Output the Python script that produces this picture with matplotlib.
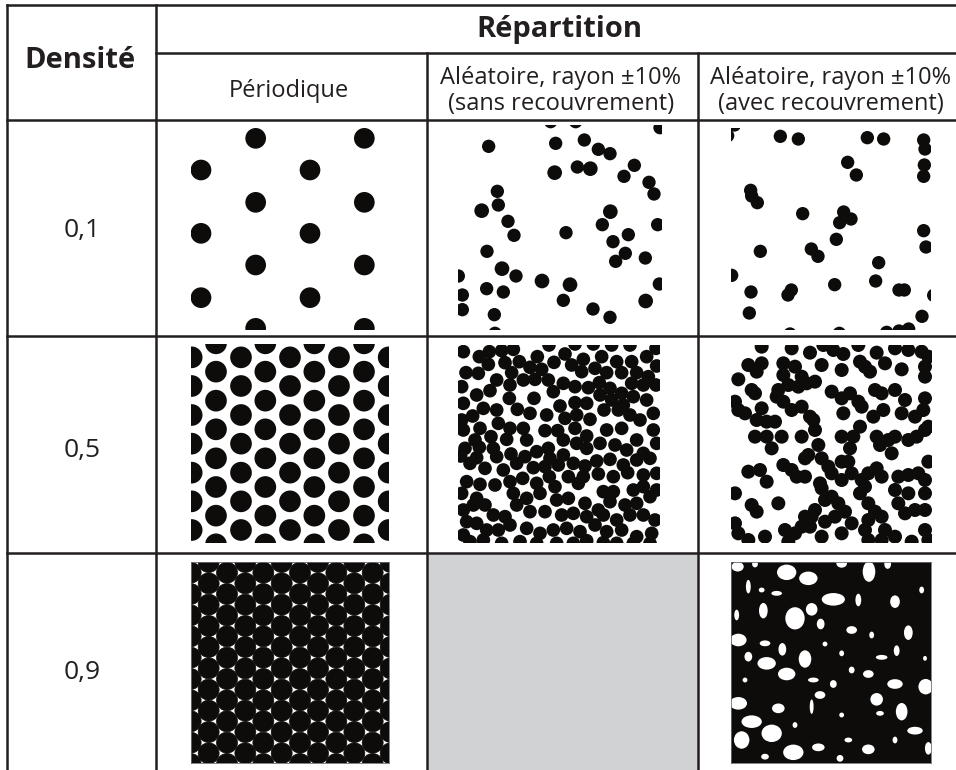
import matplotlib.pyplot as plt
from matplotlib.patches import Circle, Ellipse, Rectangle
from matplotlib.collections import PatchCollection

plt.rcParams['font.family'] = ['Open Sans', 'DejaVu Sans']

# Table text
density_labels = ['0,1', '0,5', '0,9']
column_titles = ['Périodique',
                 'Aléatoire, rayon ±10%\n(sans recouvrement)',
                 'Aléatoire, rayon ±10%\n(avec recouvrement)']
group_title = 'Répartition'
row_title = 'Densité'

# Disk data. Every panel has its own frame
# (1 unit = 1/3 pixel, measured from the panel's reading origin).

# periodic 0.1 : two column families of a hexagonal lattice
per01_cols_a = [123, 450]
per01_rows_a = [165, 355, 548]
per01_cols_b = [287, 613]
per01_rows_b = [70, 262, 450, 640]
per01_r = 31

# periodic 0.5
per05_cols_a = [95, 243, 390, 537, 686]
per05_rows_a = [82, 168, 255, 341, 428, 514, 600]
per05_cols_b = [168, 316, 463, 612]
per05_rows_b = [40, 125, 212, 298, 385, 471, 557, 643]
per05_r = 32.5

# periodic 0.9
per09_cols_a = [92, 201, 310, 420, 529, 638]
per09_rows_a = [34, 98, 162, 226, 289, 353, 417, 481, 544, 608, 672]
per09_cols_b = [146, 256, 365, 474, 583, 692]
per09_rows_b = [2, 66, 130, 194, 258, 321, 385, 449, 512, 576, 640, 704]
per09_r = 31.4

# random 0.1, no overlap
rnd01_x = [362, 437, 690, 176, 377, 463, 505, 540, 374, 442, 481, 613, 582,
           657, 672, 202, 205, 155, 234, 252, 541, 517, 683, 408, 595, 549,
           171, 586, 557, 646, 216, 258, 85, 336, 420, 688, 170, 220, 97,
           400, 647, 97, 489, 193, 540, 195]
rnd01_y = [20, 20, 38, 94, 85, 75, 103, 116, 173, 156, 161, 151, 184, 202,
           237, 229, 270, 287, 319, 361, 290, 329, 329, 353, 359, 380, 409,
           415, 439, 429, 461, 483, 483, 498, 509, 507, 521, 531, 540, 556,
           558, 584, 582, 599, 607, 655]
rnd01_r = [20, 20, 20, 20, 20, 20, 20, 20, 22, 20, 22, 20, 20, 20, 20, 20,
           20, 22, 20, 20, 22, 20, 20, 20, 20, 20, 20, 20, 20, 20, 22, 20,
           20, 22, 22, 20, 20, 20, 20, 20, 22, 20, 20, 20, 20, 20]

# random 0.1, with overlap
ovl01_x = [98, 118, 256, 310, 517, 566, 686, 690, 688, 686, 458, 484, 167,
           170, 187, 323, 446, 434, 468, 686, 693, 424, 196, 349, 369, 551,
           110, 168, 289, 279, 419, 542, 612, 628, 716, 163, 681, 285, 433,
           575, 612, 641]
ovl01_y = [62, 30, 64, 72, 68, 72, 75, 102, 150, 184, 142, 180, 226, 243,
           263, 296, 291, 323, 312, 347, 396, 373, 409, 402, 424, 443, 481,
           531, 525, 540, 509, 498, 525, 525, 541, 594, 604, 657, 655, 652,
           648, 642]
ovl01_r = 20

# random 0.5, no overlap
rnd05_x = [100, 148, 178, 215, 250, 322, 357, 405, 460, 515, 560, 605, 650,
           678, 435, 490, 545, 600,
           108, 145, 175, 225, 268, 245, 300, 335, 372, 425, 455, 495, 530,
           575, 620, 655, 680,
           95, 200, 240, 280, 315, 355, 400, 370, 435, 475, 508, 540, 575,
           605, 640, 678,
           140, 180, 238, 312, 100, 160, 200, 262, 390, 435, 470, 510, 545,
           580, 610, 650,
           128, 300, 350, 405, 440, 480, 522, 565, 600, 630, 670, 95,
           100, 150, 205, 240, 280, 345, 383, 435, 470, 530, 575, 620, 670,
           135, 183, 230, 290, 400,
           105, 148, 190, 320, 355, 440, 470, 510, 555, 590, 640, 680, 92,
           140, 200, 243, 285, 360, 400,
           120, 165, 220, 260, 310, 345, 385, 430, 465, 500, 540, 580, 620,
           660, 680, 640, 593, 550, 505, 460,
           110, 150, 195, 240, 278, 320, 358, 375, 415, 445, 520, 550, 610,
           640, 680,
           95, 140, 250, 290, 330, 380, 415, 465, 505, 540, 585, 620, 660,
           100, 130,
           165, 190, 225, 260, 300, 345, 395, 430, 470, 520, 560, 600, 640,
           675, 110, 140,
           100, 170, 205, 240, 290, 330, 370, 410, 450, 495, 530, 575, 620,
           665, 120, 160, 215, 270, 320, 380, 430, 470, 520, 560, 610, 660]
rnd05_y = [65, 80, 65, 62, 58, 80, 45, 72, 88, 80, 95, 95, 80,
           55, 42, 42, 45, 45,
           128, 130, 103, 98, 95, 128, 112, 118, 97, 105, 125, 115, 128,
           128, 128, 140, 108,
           170, 150, 165, 150, 148, 150, 160, 185, 170, 173, 158, 175, 190,
           160, 165, 165,
           195, 182, 205, 205, 220, 235, 240, 238, 228, 218, 220, 195, 210,
           225, 200, 210,
           258, 250, 255, 265, 255, 268, 240, 240, 255, 270, 250, 270,
           300, 295, 280, 295, 295, 302, 302, 295, 318, 300, 295, 330, 300,
           330, 320, 328, 330, 330,
           355, 352, 355, 365, 355, 340, 355, 340, 345, 360, 370, 340, 378,
           383, 380, 372, 380, 385, 375,
           400, 415, 420, 400, 413, 410, 405, 400, 408, 393, 388, 405, 390,
           385, 430, 435, 428, 440, 432, 440,
           455, 463, 465, 455, 445, 460, 440, 470, 440, 460, 485, 485, 480,
           470, 480,
           490, 505, 490, 505, 490, 510, 505, 520, 540, 515, 525, 520, 500,
           540, 525,
           525, 555, 560, 525, 545, 545, 555, 550, 560, 555, 570, 555, 555,
           570, 575, 580,
           615, 600, 600, 585, 595, 610, 600, 595, 605, 585, 605, 600, 620,
           610, 635, 630, 640, 635, 640, 640, 640, 632, 638, 640, 640, 640]
rnd05_r = 20.5

# random 0.5, with overlap
ovl05_x = [200, 290, 345, 385, 415, 445, 490, 545, 600, 640, 680, 700,
           160, 200, 185, 130, 265, 300, 265, 320, 380, 440, 495, 510, 525,
           570, 620, 690, 690,
           170, 180, 250, 280, 310, 335, 360, 410, 465, 490, 540, 560, 600,
           630, 690,
           120, 130, 150, 200, 245, 265, 290, 320, 345, 355, 440, 445, 500,
           535, 565, 620, 660, 685, 700,
           185, 215, 240, 180, 215, 230, 260, 320, 360, 440, 475, 495, 545,
           555, 580, 600, 640, 665, 690,
           370, 340, 330, 380, 400, 440, 465, 460, 590, 700,
           160, 195, 215, 265, 290, 305, 330, 375, 410, 440, 470, 500, 520,
           545, 560, 510, 610, 640, 670, 690,
           120, 380, 495, 520, 540, 600, 640, 690,
           170, 185, 250, 360, 390, 410, 430, 450, 420, 390, 350, 330, 520,
           560, 570, 610, 630, 660, 690,
           120, 130, 160, 210, 270, 300, 320, 345, 380, 440, 470, 510, 520,
           560, 600, 650, 690, 700, 280]
ovl05_y = [50, 55, 68, 45, 60, 72, 45, 68, 55, 60, 65, 80,
           105, 100, 125, 148, 100, 110, 135, 140, 105, 120, 95, 110, 125,
           100, 118, 110, 140,
           180, 190, 180, 165, 170, 160, 155, 185, 190, 215, 180, 190, 180,
           210, 205,
           215, 240, 250, 235, 200, 215, 240, 230, 260, 270, 205, 250, 230,
           260, 240, 250, 260, 240, 290,
           270, 275, 275, 320, 320, 355, 320, 320, 300, 320, 320, 290, 320,
           345, 330, 320, 330, 320, 300,
           345, 375, 385, 385, 410, 395, 355, 395, 370, 395,
           425, 420, 455, 405, 420, 440, 440, 460, 430, 450, 430, 450, 430,
           415, 440, 470, 440, 435, 430, 450,
           490, 475, 490, 520, 545, 480, 490, 490,
           525, 545, 520, 540, 510, 500, 520, 545, 560, 575, 560, 560, 570,
           560, 600, 520, 550, 540, 540,
           580, 610, 630, 620, 600, 610, 590, 590, 620, 610, 580, 600, 630,
           630, 620, 635, 600, 630, 635]
ovl05_r = 21

# random 0.9, with overlap: white gaps left between the disks
gap09_x = [128, 180, 275, 340, 440, 522, 578, 160, 200, 245, 415, 490, 600,
           680, 125, 205, 300, 350, 377, 470, 530, 640, 130, 210, 262, 390,
           160, 215, 330, 440, 560, 605, 690, 275, 355, 415, 470, 520, 600,
           692, 150, 375, 130, 250, 545, 620, 350, 440, 555, 170, 230, 140,
           300, 460, 520, 660, 295, 370, 700, 600, 435, 210]
gap09_y = [80, 72, 97, 115, 70, 95, 72, 140, 150, 160, 178, 180, 185, 150,
           225, 212, 235, 208, 252, 270, 285, 278, 300, 310, 328, 312, 350,
           370, 357, 340, 352, 332, 355, 402, 420, 432, 390, 402, 432, 440,
           420, 465, 490, 505, 478, 515, 500, 525, 520, 545, 580, 600, 555,
           600, 628, 572, 637, 622, 625, 600, 655, 650]
gap09_w = [25, 12, 40, 38, 22, 26, 14, 10, 12, 22, 48, 12, 20, 10, 10, 18,
           40, 24, 16, 22, 10, 18, 34, 22, 16, 10, 16, 38, 26, 10, 24, 12, 8,
           36, 22, 14, 12, 22, 32, 30, 10, 22, 36, 26, 26, 24, 8, 10, 16, 42,
           42, 32, 10, 16, 26, 32, 42, 26, 14, 10, 14, 16]
gap09_h = [20, 14, 32, 28, 18, 42, 20, 28, 10, 10, 26, 26, 26, 14, 22, 32,
           46, 26, 22, 16, 14, 30, 26, 12, 26, 10, 20, 26, 36, 12, 10, 22,
           10, 26, 10, 16, 14, 16, 20, 32, 10, 16, 26, 20, 26, 36, 30, 10,
           10, 26, 36, 36, 12, 10, 20, 16, 32, 16, 26, 14, 14, 12]

INK = '#0e0c0b'
LINE = '#231f20'
GREY = '#d1d2d4'
W, H = 956, 770
UNIT = 3.0
GAP_SCALE = 1.45  # read gap sizes are the dark-free cores only

fig = plt.figure(figsize=(W / 100, H / 100), dpi=100)
base = fig.add_axes([0, 0, 1, 1])
base.set_xlim(0, W)
base.set_ylim(H, 0)
base.axis('off')

# grey (empty) cell and the grid of the table
base.add_patch(Rectangle((427, 553), 271, 217, facecolor=GREY, edgecolor='none'))
lw = 1.8
hlines = [(5, 7.5, W), (53, 156, W), (120, 7.5, W), (336, 7.5, W), (553, 7.5, W)]
vlines = [(7.5, 5, H), (156, 5, H), (427, 53, H), (698, 53, H)]
for y, xa, xb in hlines:
    base.plot([xa, xb], [y, y], color=LINE, lw=lw, solid_capstyle='projecting')
for x, ya, yb in vlines:
    base.plot([x, x], [ya, yb], color=LINE, lw=lw, solid_capstyle='projecting')

# header texts
base.text(559, 29, group_title, ha='center', va='center', fontsize=21,
          fontweight='bold', color=LINE)
base.text(80, 61, row_title, ha='center', va='center', fontsize=21,
          fontweight='bold', color=LINE)
col_centers = [289, 561, 831]
for x, t in zip(col_centers, column_titles):
    base.text(x, 91, t, ha='center', va='center', fontsize=17,
              color=LINE, linespacing=1.12)
row_centers = [231, 450, 672]
for y, t in zip(row_centers, density_labels):
    base.text(82, y, t, ha='center', va='center', fontsize=19, color=LINE)


def panel(origin, xlim, ylim, bg='white', frame=False):
    ox, oy = origin
    x0, x1 = ox + xlim[0] / UNIT, ox + xlim[1] / UNIT
    y0, y1 = oy + ylim[0] / UNIT, oy + ylim[1] / UNIT
    ax = fig.add_axes([x0 / W, 1 - y1 / H, (x1 - x0) / W, (y1 - y0) / H])
    ax.set_xlim(*xlim)
    ax.set_ylim(ylim[1], ylim[0])
    ax.set_facecolor(bg)
    ax.set_xticks([])
    ax.set_yticks([])
    for s in ax.spines.values():
        s.set_visible(frame)
        s.set_color('#6d6e71')
        s.set_linewidth(0.6)
    return ax


def disks(ax, xs, ys, rs, color=INK, edge=0.0):
    if not hasattr(rs, '__len__'):
        rs = [rs] * len(xs)
    patches = [Circle((x, y), r) for x, y, r in zip(xs, ys, rs)]
    ax.add_collection(PatchCollection(patches, facecolor=color,
                                      edgecolor=color if edge else 'none',
                                      linewidth=edge))


def lattice(ax, cols_a, rows_a, cols_b, rows_b, r, edge=0.0):
    xs, ys = [], []
    for cols, rows in [(cols_a, rows_a), (cols_b, rows_b)]:
        for x in cols:
            for y in rows:
                xs.append(x)
                ys.append(y)
    disks(ax, xs, ys, r, edge=edge)


# row 0,1
ax = panel((160, 115), (93, 687), (36, 645))
lattice(ax, per01_cols_a, per01_rows_a, per01_cols_b, per01_rows_b, per01_r)
ax = panel((430, 115), (85, 695), (30, 645))
disks(ax, rnd01_x, rnd01_y, rnd01_r)
ax = panel((695, 115), (108, 708), (40, 645))
disks(ax, ovl01_x, ovl01_y, ovl01_r)

# row 0,5
ax = panel((160, 330), (93, 687), (42, 640))
lattice(ax, per05_cols_a, per05_rows_a, per05_cols_b, per05_rows_b, per05_r)
ax = panel((430, 330), (85, 690), (45, 640))
disks(ax, rnd05_x, rnd05_y, rnd05_r)
ax = panel((695, 330), (108, 710), (45, 640))
disks(ax, ovl05_x, ovl05_y, ovl05_r)

# row 0,9
ax = panel((160, 540), (92, 688), (65, 668), frame=True)
lattice(ax, per09_cols_a, per09_rows_a, per09_cols_b, per09_rows_b, per09_r,
        edge=0.5)
ax = panel((695, 540), (108, 708), (65, 668), bg=INK, frame=True)
gaps = [Ellipse((x, y), w * GAP_SCALE, h * GAP_SCALE) for x, y, w, h in
        zip(gap09_x, gap09_y, gap09_w, gap09_h)]
ax.add_collection(PatchCollection(gaps, facecolor='white', edgecolor='none'))

fig.savefig('out.png', dpi=100, facecolor='white')
